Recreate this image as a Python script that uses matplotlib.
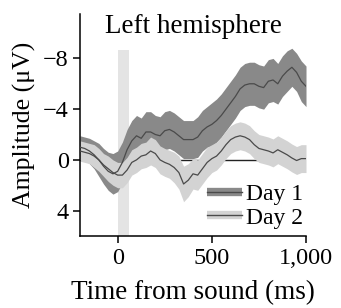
import numpy as np
import matplotlib.pyplot as plt
from matplotlib.lines import Line2D

# time axis (ms) and ERP amplitudes (uV)
times = np.arange(-200, 1001, 25)

day1_mean = [-1.0, -0.9, -0.7, -0.4, 0.0, 0.5, 0.9, 1.1, 0.9, 0.2, -0.8, -1.5,
             -1.9, -1.7, -2.2, -2.2, -2.0, -1.9, -2.3, -2.4, -2.2, -1.9, -1.6,
             -1.6, -1.6, -1.8, -2.3, -2.6, -2.8, -3.1, -3.5, -4.0, -4.5, -5.0,
             -5.6, -5.9, -6.0, -6.0, -5.8, -5.7, -6.2, -6.3, -6.0, -6.6, -7.0,
             -7.3, -6.9, -6.2, -5.8]
day1_err = [0.9, 0.9, 1.0, 1.1, 1.3, 1.4, 1.5, 1.6, 1.6, 1.6, 1.6, 1.6,
            1.6, 1.6, 1.6, 1.6, 1.5, 1.5, 1.5, 1.5, 1.5, 1.5, 1.5,
            1.5, 1.5, 1.6, 1.6, 1.6, 1.7, 1.7, 1.7, 1.7, 1.7, 1.7,
            1.7, 1.7, 1.7, 1.7, 1.7, 1.7, 1.7, 1.7, 1.6, 1.6, 1.6,
            1.5, 1.5, 1.6, 1.6]

day2_mean = [-0.7, -0.6, -0.5, -0.3, 0.0, 0.4, 0.7, 1.0, 1.2, 1.2, 0.8, 0.2,
             0.0, -0.3, -0.4, -0.7, -0.5, 0.0, 0.2, 0.35, 0.6, 1.0, 1.9,
             1.6, 1.1, 1.2, 0.7, 0.2, -0.1, -0.3, -0.7, -1.2, -1.6, -1.8,
             -1.9, -1.8, -1.6, -1.2, -0.9, -0.8, -0.7, -0.55, -0.8, -0.6, -0.4,
             -0.15, 0.05, -0.1, -0.1]
day2_err = [0.8, 0.8, 0.8, 0.9, 0.9, 0.9, 1.0, 1.0, 1.0, 1.0, 1.0, 1.0,
            1.0, 1.0, 1.0, 1.1, 1.1, 1.1, 1.1, 1.1, 1.2, 1.3, 1.4,
            1.3, 1.2, 1.2, 1.2, 1.2, 1.1, 1.1, 1.1, 1.1, 1.1, 1.1,
            1.1, 1.1, 1.1, 1.1, 1.1, 1.1, 1.1, 1.1, 1.1, 1.1, 1.1,
            1.1, 1.1, 1.1, 1.1]

labels = ['Day 1', 'Day 2']
fill_colors = ['#898989', '#d3d3d3']
line_color = '#4a4a4a'
stim_window = (0, 58)

plt.rcParams['font.family'] = ['Liberation Serif', 'DejaVu Serif']

fig = plt.figure(figsize=(3.41, 3.08), dpi=100)
ax = fig.add_axes([0.2346, 0.2338, 0.6628, 0.7207])

# stimulus window and zero line
ax.fill_between(stim_window, -8.7, 6, color='#e4e4e4', lw=0, zorder=0)
ax.axhline(0, color='#222222', lw=1.0, zorder=1)

handles = []
for mean, err, fc, lab in zip([day1_mean, day2_mean], [day1_err, day2_err],
                              fill_colors, labels):
    mean = np.array(mean)
    err = np.array(err)
    ax.fill_between(times, mean - err, mean + err, color=fc, lw=0, zorder=2)
    ax.plot(times, mean, color=line_color, lw=0.9, zorder=3)
    handles.append((Line2D([], [], color=fc, lw=6, solid_capstyle='butt'),
                    Line2D([], [], color=line_color, lw=1.0)))

ax.set_xlim(-200, 1000)
ax.set_ylim(6, -11.5)
ax.set_xticks([0, 500, 1000])
ax.set_xticklabels(['0', '500', '1,000'])
ax.set_yticks([-8, -4, 0, 4])
ax.set_yticklabels(['\u22128', '\u22124', '0', '4'])
ax.tick_params(direction='out', length=5, width=1.1, labelsize=17.5)
ax.tick_params(axis='x', pad=4)
ax.tick_params(axis='y', pad=3)

for s in ['top', 'right']:
    ax.spines[s].set_visible(False)
for s in ['left', 'bottom']:
    ax.spines[s].set_linewidth(1.1)

ax.set_xlabel('Time from sound (ms)', fontsize=19.5, labelpad=8)
ax.set_ylabel('Amplitude (\u03bcV)', fontsize=18.5, labelpad=5)
ax.text(0.5, 0.914, 'Left hemisphere', transform=ax.transAxes,
        ha='center', va='baseline', fontsize=19.5)

ax.legend(handles, labels, loc='lower right', bbox_to_anchor=(1.01, 0.012),
          frameon=False, fontsize=17, handlelength=1.45, handletextpad=0.2,
          labelspacing=0.08, borderpad=0.1, borderaxespad=0.1)

fig.savefig('out.png', dpi=100)
